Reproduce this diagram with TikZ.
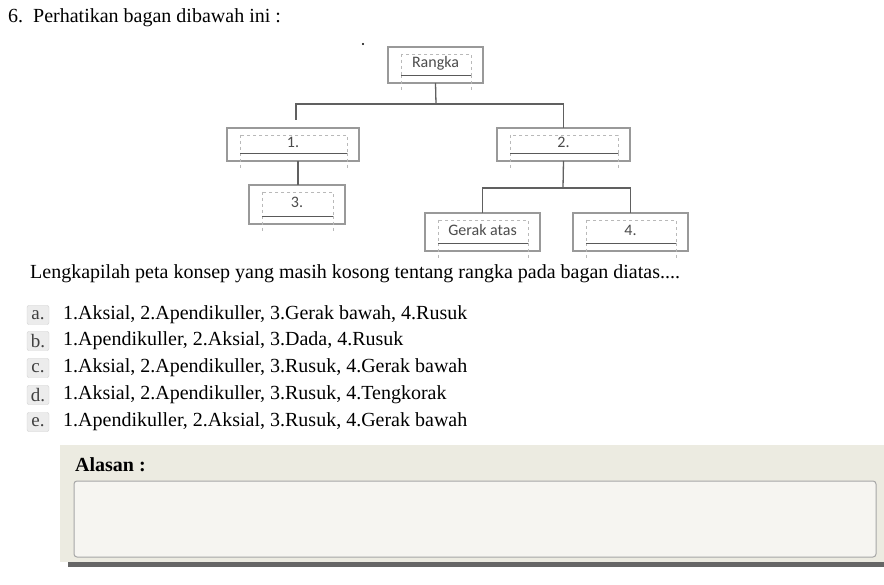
\documentclass[tikz,border=0pt]{standalone}
\usepackage{fontspec}
\setmainfont{Liberation Serif}
\newfontfamily\carlfont{Carlito}
\begin{document}
\begin{tikzpicture}[x=1pt,y=-1pt,
  box/.style={draw=gray!80,line width=1.4pt,fill=white},
  ln/.style={draw=gray!75!black,line width=1.3pt},
  inner/.style={draw=gray!55,dashed,line width=0.6pt},
  lab/.style={font=\carlfont\fontsize{16}{18}\selectfont,text=black!70},
  txt/.style={anchor=west,font=\fontsize{20}{22}\selectfont,inner sep=0pt},
  badge/.style={draw=gray!35,fill=gray!15,rounded corners=2pt,minimum width=22pt,minimum height=19pt,inner sep=0pt,font=\fontsize{19}{20}\selectfont,text=black!75}]
\useasboundingbox (0,0) rectangle (884,585);
\fill[white] (0,0) rectangle (884,585);
\node[txt] (q) at (8,18) {6.\ \ Perhatikan bagan dibawah ini :};
\fill (363,44) circle (1.2pt);
\newcommand\cbox[6]{%
  \draw[box] (#2,#3) rectangle (#4,#5);
  \draw[inner] (#2+13,#3+7) rectangle (#4-12,#5-8);
  \draw[inner] (#2+13,#5-8) -- (#2+13,#5+8) (#4-12,#5-8) -- (#4-12,#5+8);
  \draw[gray!70!black,line width=0.9pt] (#2+13,#5-8) -- (#4-12,#5-8);
  \node[lab,inner sep=0pt] (#1) at ({(#2+#4)/2},{(#3+#5)/2-2}) {#6};
  \coordinate (#1t) at ({(#2+#4)/2},#3);
  \coordinate (#1b) at ({(#2+#4)/2},#5);}
\cbox{r}{388}{47}{483}{83}{Rangka}
\cbox{a}{227}{128}{359}{161}{1.}
\cbox{b}{497}{128}{630}{161}{2.}
\cbox{c}{249}{185}{345}{224}{3.}
\cbox{g}{425}{213}{540}{251}{Gerak atas}
\cbox{d}{573}{213}{688}{251}{4.}
\coordinate (j1) at (436,104);
\coordinate (j2) at (563,188);
\coordinate (a1) at (296,120);
\coordinate (a2) at (298,161);
\coordinate (c2) at (298,185);
\draw[ln] (rb) -- (j1);
\draw[ln] (a1) |- (j1) -| (bt);
\draw[ln] (a2) -- (c2);
\draw[ln] (bb) -- (j2);
\draw[ln] (gt) |- (j2) -| (dt);
\node[txt] (l) at (30,274) {Lengkapilah peta konsep yang masih kosong tentang rangka pada bagan diatas....};
\foreach \y/\k/\t in {315/a/{1.Aksial, 2.Apendikuller, 3.Gerak bawah, 4.Rusuk},341/b/{1.Apendikuller, 2.Aksial, 3.Dada, 4.Rusuk},368/c/{1.Aksial, 2.Apendikuller, 3.Rusuk, 4.Gerak bawah},395/d/{1.Aksial, 2.Apendikuller, 3.Rusuk, 4.Tengkorak},422/e/{1.Apendikuller, 2.Aksial, 3.Rusuk, 4.Gerak bawah}}{
  \node[badge] (o\k) at (38,\y) {\k.};
  \node[txt] (t\k) at (63,\y) {\t};}
\fill[black!60] (68,562) rectangle (884,567);
\fill[fill={rgb,255:red,236;green,235;blue,225}] (60,445) rectangle (884,562);
\node[txt,font=\bfseries\fontsize{20}{22}\selectfont] (al) at (75,465) {Alasan :};
\draw[gray!70,line width=1pt,fill={rgb,255:red,246;green,245;blue,241},rounded corners=3pt] (74,481) rectangle (876,557);
\end{tikzpicture}
\end{document}
